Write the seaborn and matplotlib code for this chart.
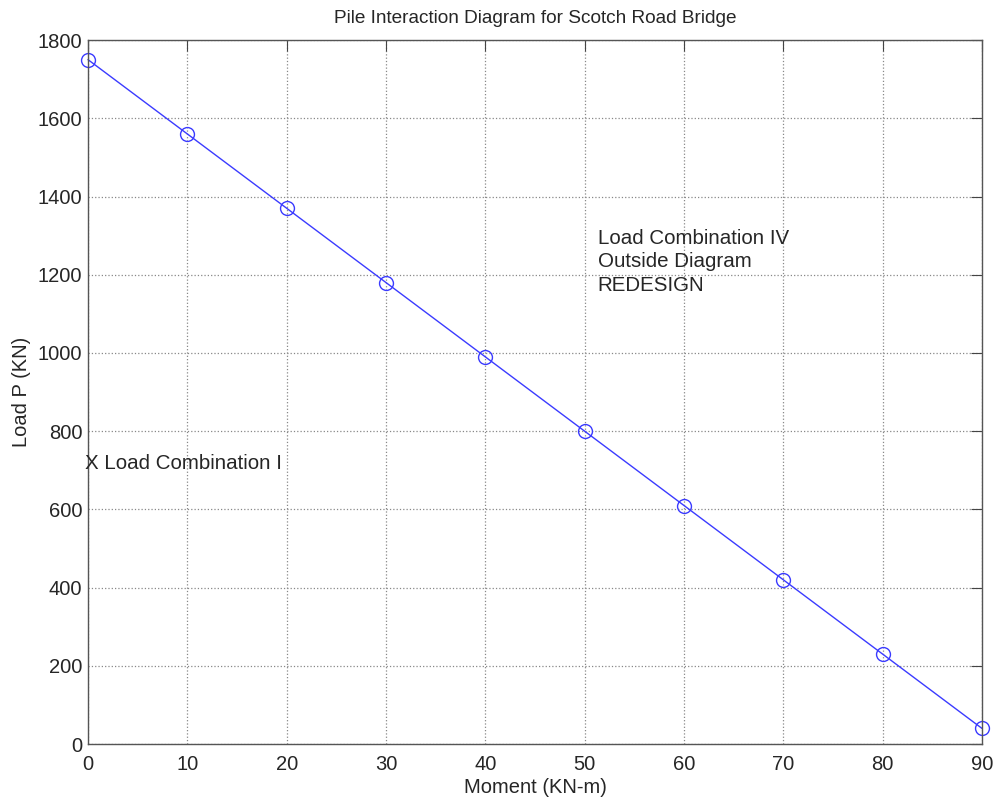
import pandas as pd
import matplotlib
matplotlib.use("Agg")
import matplotlib.pyplot as plt
import seaborn as sns

# values
moment = [0, 10, 20, 30, 40, 50, 60, 70, 80, 90]
load = [1750, 1560, 1370, 1180, 990, 800, 610, 420, 230, 40]
x_ticks = [0, 10, 20, 30, 40, 50, 60, 70, 80, 90]
y_ticks = [0, 200, 400, 600, 800, 1000, 1200, 1400, 1600, 1800]

data = pd.DataFrame({"moment": moment, "load": load})

sns.set_style("white")
plt.rcParams["font.family"] = ["Liberation Sans", "DejaVu Sans"]

fig = plt.figure(figsize=(9.94, 8.01), dpi=100)
ax = fig.add_axes([0.0885, 0.071, 0.8995, 0.879])

sns.lineplot(data=data, x="moment", y="load", ax=ax, color="#3b3bff",
             linewidth=1.0, marker="o", markersize=10, markerfacecolor="none",
             markeredgecolor="#3b3bff", markeredgewidth=1.0, clip_on=False)

ax.set_xlim(0, 90)
ax.set_ylim(0, 1800)
ax.set_xticks(x_ticks)
ax.set_yticks(y_ticks)
ax.tick_params(direction="in", top=True, right=True, length=8, labelsize=14.5,
               color="#444444")
ax.tick_params(axis="x", pad=8)
ax.tick_params(axis="y", pad=4)
ax.grid(True, linestyle=":", color="#888888", linewidth=0.9)
for s in ax.spines.values():
    s.set_color("#555555")
    s.set_linewidth(1.0)

ax.set_xlabel("Moment (KN-m)", fontsize=14.5, labelpad=3)
ax.set_ylabel("Load P (KN)", fontsize=14.5, labelpad=5)
ax.set_title("Pile Interaction Diagram for Scotch Road Bridge", fontsize=13.7, pad=12)

ax.text(-0.3, 718, "X Load Combination I", fontsize=14.8, va="center", ha="left")
ax.text(51.3, 1318, "Load Combination IV\nOutside Diagram\nREDESIGN",
        fontsize=14.8, va="top", ha="left", linespacing=1.3)

fig.savefig("out.png", dpi=100)
